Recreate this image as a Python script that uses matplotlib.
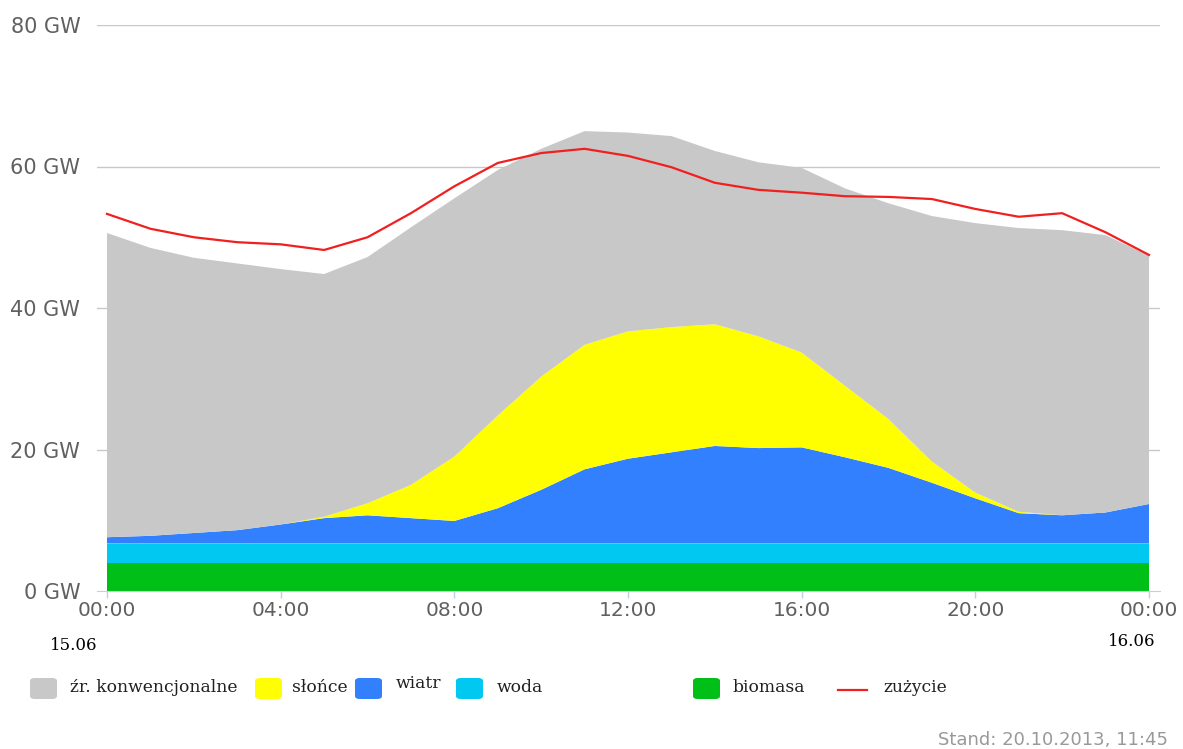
import numpy as np
import matplotlib
matplotlib.use('Agg')
import matplotlib.pyplot as plt
from matplotlib.patches import FancyBboxPatch
from matplotlib.lines import Line2D

# hourly values, 15.06 00:00 .. 16.06 00:00 (GW)
hours = np.arange(25)
biomasa = [4.0] * 25
woda = [2.7] * 25
wiatr = [0.9, 1.1, 1.5, 1.9, 2.7, 3.6, 4.0, 3.6, 3.2, 5.0, 7.6, 10.5, 12.0,
         12.9, 13.8, 13.5, 13.6, 12.2, 10.7, 8.6, 6.4, 4.3, 4.0, 4.4, 5.6]
slonce = [0, 0, 0, 0, 0, 0.2, 1.7, 4.7, 9.1, 13.1, 16.0, 17.6, 18.0,
          17.7, 17.2, 15.8, 13.4, 10.1, 6.9, 3.0, 0.8, 0.2, 0, 0, 0]
konwencjonalne = [43.0, 40.7, 38.9, 37.7, 36.1, 34.3, 34.8, 36.4, 36.5, 34.7, 32.2, 30.2, 28.1,
                  27.0, 24.5, 24.6, 26.1, 27.9, 30.5, 34.7, 38.1, 40.1, 40.3, 39.2, 35.1]
zuzycie = [53.3, 51.2, 50.0, 49.3, 49.0, 48.2, 50.0, 53.4, 57.2, 60.5, 61.9, 62.5, 61.5,
           59.9, 57.7, 56.7, 56.3, 55.8, 55.7, 55.4, 54.0, 52.9, 53.4, 50.7, 47.5]

y_ticks = [0, 20, 40, 60, 80]
x_ticks = [0, 4, 8, 12, 16, 20, 24]
x_labels = ['00:00', '04:00', '08:00', '12:00', '16:00', '20:00', '00:00']
day_labels = ['15.06', '16.06']

names = ['źr. konwencjonalne', 'słońce', 'wiatr', 'woda', 'biomasa', 'zużycie']
c_konw = '#c8c8c8'
c_slonce = '#ffff00'
c_wiatr = '#3380ff'
c_woda = '#00c8f0'
c_bio = '#00bf16'
c_zuz = '#f02020'

W, H = 1183, 749
fig = plt.figure(figsize=(W / 100, H / 100), dpi=100)
ax = fig.add_axes([97 / W, (H - 591) / H, (1160 - 97) / W, (591 - 25) / H])

ax.stackplot(hours, biomasa, woda, wiatr, slonce, konwencjonalne,
             colors=[c_bio, c_woda, c_wiatr, c_slonce, c_konw], linewidth=0, zorder=2)
ax.plot(hours, zuzycie, color=c_zuz, linewidth=1.6, zorder=4)

px_h = (1149 - 107) / 24
ax.set_xlim(-10 / px_h, 24 + 11 / px_h)
ax.set_ylim(0, 80)

for v in y_ticks[1:]:
    ax.axhline(v, color='#c8c8c8', linewidth=1, zorder=1)

for s in ['top', 'right', 'left']:
    ax.spines[s].set_visible(False)
ax.spines['bottom'].set_color('#c0d0e0')
ax.spines['bottom'].set_zorder(5)

ax.set_yticks(y_ticks)
ax.set_yticklabels(['%d GW' % v for v in y_ticks])
ax.tick_params(axis='y', length=0, pad=12, labelsize=15, labelcolor='#606060')
ax.set_xticks(x_ticks)
ax.set_xticklabels(x_labels)
ax.tick_params(axis='x', length=5, width=1, color='#c0d0e0', pad=2,
               labelsize=14.5, labelcolor='#606060')

serif = ['DejaVu Serif']
fig.text(74 / W, 1 - 645 / H, day_labels[0], ha='center', va='center',
         fontsize=12, family=serif, color='black')
fig.text(1132 / W, 1 - 641 / H, day_labels[1], ha='center', va='center',
         fontsize=12, family=serif, color='black')

# legend
sw_x = [30, 255, 355, 456, 693]
tx_x = [70, 292, 396, 497, 732]
sw_c = [c_konw, c_slonce, c_wiatr, c_woda, c_bio]
ly = 688
for i in range(5):
    p = FancyBboxPatch(((sw_x[i]) / W, 1 - 699 / H), 27 / W, 21 / H,
                       boxstyle='round,pad=0,rounding_size=0.004',
                       transform=fig.transFigure, facecolor=sw_c[i], edgecolor='none')
    fig.patches.append(p)
    dy = -5 if names[i] == 'wiatr' else 0
    fig.text(tx_x[i] / W, 1 - (ly + dy) / H, names[i], ha='left', va='center',
             fontsize=12.3, family=serif, color='#202020')
fig.lines.append(Line2D([838 / W, 867 / W], [1 - 690 / H, 1 - 690 / H],
                        transform=fig.transFigure, color=c_zuz, linewidth=1.6))
fig.text(883 / W, 1 - ly / H, names[5], ha='left', va='center',
         fontsize=12.3, family=serif, color='#202020')

fig.text(1168 / W, 1 - 740 / H, 'Stand: 20.10.2013, 11:45', ha='right', va='center',
         fontsize=13, color='#999999')

plt.savefig('out.png', dpi=100)
